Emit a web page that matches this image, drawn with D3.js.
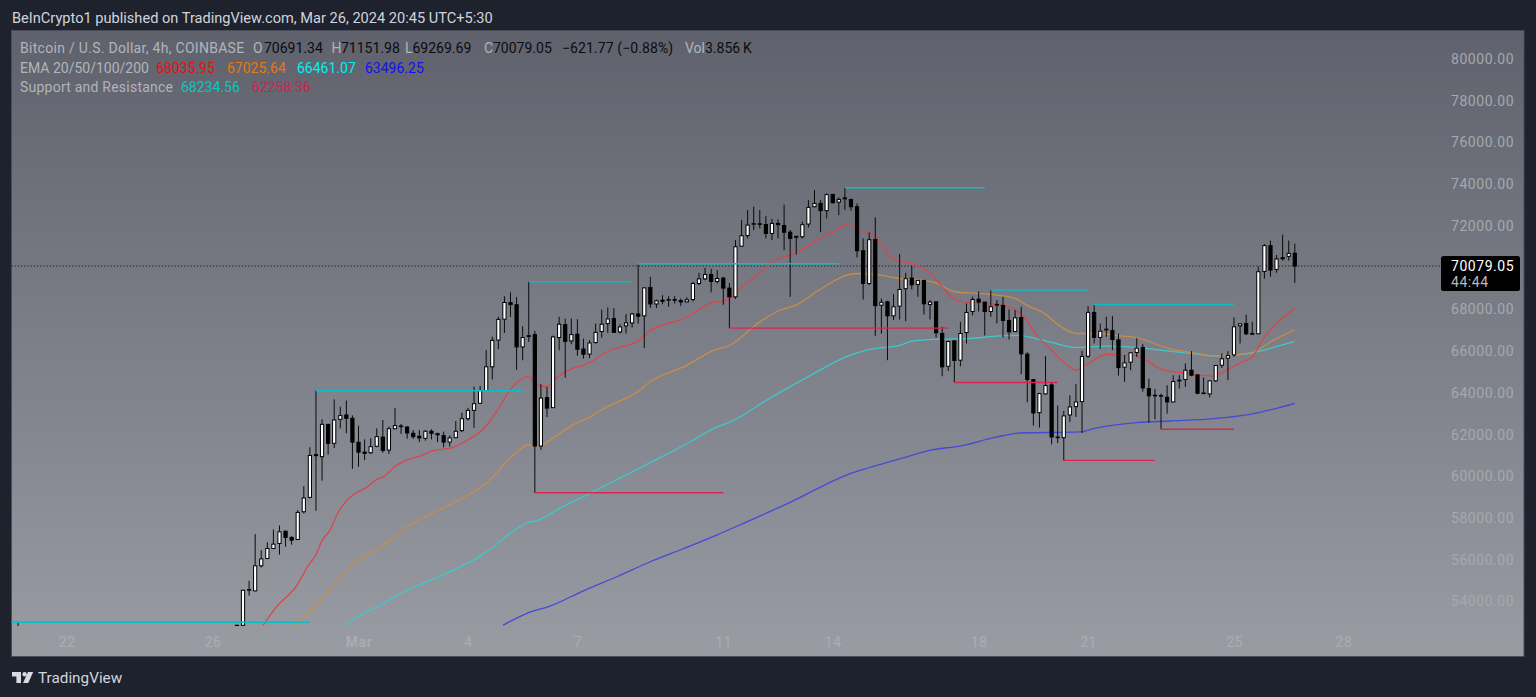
<!DOCTYPE html>
<html>
<head>
<meta charset="utf-8">
<title>Bitcoin / U.S. Dollar, 4h</title>
<script src="https://cdn.jsdelivr.net/npm/d3@7"></script>
<style>
	html, body { margin: 0; padding: 0; background: #1e222d; overflow: hidden; }
	svg { display: block; }
	text { font-family: Roboto, sans-serif; }
</style>
</head>
<body>
<div id="chart"></div>
<script>
// candles, bar 0 is the first big candle of Feb 26, arrays start at bar -1
var firstBar = -1;
var opens = [52860,
	52860,54540,54510,55710,56060,56540,56780,57370,57070,56970,
	58300,58990,61040,60940,62490,61580,62730,62940,62780,61630,
	61160,61130,61440,61880,61260,62280,62410,62360,62060,61920,
	61820,62160,62040,61950,61640,61850,62190,62760,63160,63500,
	64113,65249,66529,67530,68330,68220,66200,66740,66790,61450,
	63770,63290,66650,67270,66490,66810,66100,65860,66410,66940,
	67320,67560,66920,67210,67350,67780,67690,69050,68260,68440,
	68440,68470,68420,68360,68470,69240,69460,69670,69340,69500,
	69020,68600,71030,71540,72080,72100,72070,71640,72120,72020,
	71700,71500,71480,72090,72920,73080,72730,73510,73140,73340,
	73270,72920,70810,69240,71350,68200,68365,67690,68155,68990,
	69500,69195,69390,68235,68365,66845,65275,66490,65565,66890,
	67900,68490,68350,67900,68205,68190,67470,66940,67610,65855,
	64635,63050,63950,64380,61850,61850,62940,63340,63580,65755,
	67855,66655,67020,66990,66540,65230,65470,65935,66175,64205,
	63855,63840,63790,63565,64575,64635,65085,64860,63965,63950,
	64575,65325,65660,65820,67215,67325,66845,66830,69820,71055,
	69915,70475,70540,70691.34];
var highs = [52880,
	54560,54990,57230,56460,56840,57450,57640,57390,57130,58380,
	59530,61390,64110,62730,62510,63690,63340,63630,62920,62430,
	61770,61820,62300,62700,62380,63280,62510,62410,62220,62220,
	62220,62250,62090,62140,61960,62650,63050,63280,64300,64330,
	66050,66689,67649,68630,68820,68600,67190,69320,66970,64410,
	64280,66740,67640,67560,67560,67530,66600,66520,67320,67990,
	68090,68060,67290,67770,67830,70150,69050,69560,68470,68680,
	68630,68630,68520,68580,69320,69750,69990,69940,69880,69560,
	69270,71320,72280,72760,72920,72760,72470,72340,72310,73020,
	71800,71510,72200,73240,73720,73240,73560,73530,73370,73830,
	73300,73080,71400,71690,72410,68520,68415,68735,70655,69755,
	70075,69405,69405,68445,68365,67165,66495,66525,67405,68285,
	68605,68860,68350,68925,68445,68605,68000,67965,68125,65950,
	64635,64000,65755,64475,63390,63135,63885,64415,66015,68155,
	68205,67325,67645,67690,66845,65805,65950,66620,66335,64670,
	64190,63965,64365,64845,64845,65405,66000,64860,64735,64605,
	65340,65885,65995,67610,67325,67740,67405,70045,71135,71295,
	70605,71580,71295,71151.98];
var lows = [52700,
	52700,54280,54490,55630,56060,56510,56250,56620,56720,56970,
	58220,58940,58350,59790,61040,61360,62300,62060,60360,60460,
	60780,61070,61390,61130,61070,62280,62030,61800,61790,61640,
	61710,61770,61640,61390,61420,61840,62120,62670,62320,63470,
	64097,64641,66097,66870,67640,65110,65560,66440,59210,61270,
	62840,63290,66040,64730,66330,65780,65640,65660,66360,66650,
	66870,66900,66840,66840,67130,67320,66150,68070,68060,68250,
	68120,68280,68170,68340,68380,69160,69400,68820,69240,68220,
	67100,68500,71000,71400,71800,71880,71400,71320,71400,70840,
	68600,70630,71400,71930,72890,71700,72360,73080,72520,72760,
	72730,70490,68470,69160,66730,66840,65565,67485,67515,67435,
	68955,68605,67755,67515,66650,64795,65050,64490,65275,66365,
	67710,67900,66750,67645,67325,66650,66555,66910,64895,63550,
	62430,62335,63915,61535,61595,60765,62605,62845,62075,65675,
	66365,66110,66685,66045,64830,64525,65085,65725,64060,62575,
	62735,62255,63005,63550,64205,64285,64795,63935,63935,63775,
	64525,65195,64605,65725,66365,66765,66765,66815,69470,69565,
	69755,70335,70335,69269.69];
var closes = [52700,
	54540,54570,55710,56040,56540,56750,57340,57070,56940,58270,
	58960,61000,60990,62490,61580,62700,62910,62780,61640,61160,
	61100,61420,61900,61240,62280,62430,62380,62080,61900,61840,
	62160,62060,61990,61640,61840,62160,62760,63160,63480,64110,
	65249,66513,67521,68330,68230,66200,66650,66700,61450,63750,
	63270,66680,67290,66470,66790,66090,65850,66390,66900,67290,
	67540,66900,67160,67350,67780,67670,69030,68260,68410,68390,
	68470,68440,68360,68460,69240,69460,69670,69340,69480,69020,
	68600,71000,71530,72040,72110,72080,71640,72120,72060,71700,
	71400,71460,72060,72890,73080,72730,73500,73110,73270,73300,
	72920,70810,69240,71340,68180,68340,67690,68125,68955,69470,
	69180,69390,68270,68350,66880,65245,66460,65550,66845,67855,
	68475,68350,67900,68125,68240,67470,66925,67595,65870,64635,
	63035,63965,64350,61885,61880,62895,63325,63565,65745,67855,
	66655,66955,67050,66555,65210,65435,65920,66140,64235,63855,
	63885,63870,63565,64540,64605,65085,64845,63980,63995,64575,
	65310,65630,65790,67165,67310,66830,66815,69805,71055,69885,
	70415,70430,70685,70079.05];

// single wick poking in at the far left, the rest of that month is below the pane
var strayBars = [-37];
var strayHighs = [53030];

var ema20Bars = [3.3,5.5,8.9,10.6,12.1,12.9,14.3,15.7,16.9,18.1,20.3,22,23.1,25.3,26.9,29.1,31.3,34.6,36.5,39.8,41.7,43.9,46.9,48,49.9,51.6,54.1,56,60.4,65,66.7,72.9,76.8,79.8,81.7,84.5,87.8,90.8,94.4,97.1,99.7,101.5,102.9,105.3,107,110.3,113,115.2,117.1,119.6,123.4,126.7,128.4,130.5,132.7,134.9,137.1,138.8,142.1,144,146.4,148.6,151.4,154.7,157.4,159.6,161.8,164,165.9,167.8,170,173];
var ema20 = [52860,53740,54780,55660,56300,56860,57420,58300,58780,59100,59470,59850,59980,60540,60780,60970,61230,61390,61660,62350,63100,64130,64790,64440,64280,64730,65160,65320,66040,66490,66920,67610,68280,68470,69000,69640,70390,70680,71320,71720,72120,71750,71690,71000,70400,70160,69760,69000,68480,68320,68250,68040,67650,66770,66130,65490,65090,65360,65850,65800,65800,65560,65090,64960,64850,64800,65090,65440,65690,66600,67320,68036];
var ema50Bars = [8.2,9.9,12.7,16,18.7,23.1,26.9,30.8,34.6,37.9,40.1,43.9,46.9,48,49.4,51.6,54.1,56.5,59.8,65,66.9,73,77.4,80.1,85,88.3,91.1,94.9,99.6,101.5,104.8,108,111.9,114.1,117.1,120.7,124,127,128.9,132.2,133.8,137.1,140.4,144.2,147,151.9,156.3,159.6,164,165.9,169.5,173];
var ema50 = [52860,53260,54060,55180,55900,56700,57550,58190,58730,59260,59690,60860,61500,61450,61530,61960,62440,62760,63320,64070,64520,65320,66040,66280,67400,67960,68230,68950,69670,69720,69640,69480,69400,69245,68845,68765,68685,68525,68205,67725,67325,66845,66845,66730,66650,66160,65920,65770,65850,65920,66530,67025];
var ema100Bars = [16.8,19.2,23.1,25.3,28.6,34.6,37.9,40.1,43.9,46.9,48.3,52.1,57.1,65,73,77.9,80.1,86.1,88.9,92.7,99.8,102.9,108,110.3,114.6,119.6,123.9,127.3,132.2,137.1,142.1,147,151.9,156.9,159.6,162.9,165.9,169.5,173];
var ema100 = [52860,53340,53900,54300,54730,55500,55980,56380,57260,57790,57870,58460,59190,60360,61560,62360,62600,63640,64120,64730,65800,66070,66280,66490,66570,66605,66720,66750,66475,66175,66240,66175,66015,65855,65770,65805,65920,66175,66461];
var ema200Bars = [42.8,46.9,50.5,56,61.5,67,72.4,77.9,82.3,90,99.8,102.9,108.1,113.5,117.9,124,127.8,137.7,139.9,147,152.5,159.6,165.6,173];
var ema200 = [52865,53457,53777,54513,55185,55905,56529,57185,57745,58753,60120,60410,60845,61275,61450,61885,62075,62125,62285,62570,62650,62765,62970,63496];

// support and resistance segments
var resistFrom = [-40,12,47,65,99,123,140];
var resistTo = [11,46,64,98,122,139,163];
var resistLevels = [53007,64100,69320,70184,73830,68925,68235];
var supportFrom = [48,80,117,135,151];
var supportTo = [79,116,134,150,163];
var supportLevels = [59210,67100,64495,60765,62258];

var priceTicks = [54000,56000,58000,60000,62000,64000,66000,68000,70000,72000,74000,76000,78000,80000];
var dateBars = [-29,-5,19,37,55,79,97,121,139,163,181];
var dateLabels = ['22','26','Mar','4','7','11','14','18','21','25','28'];
var lastPrice = 70079.05;
var countdown = '44:44';

var width = 1536, height = 697;
var panel = { left: 11.5, top: 30.5, right: 1524, bottom: 656.5 };
var paneBottom = 626;

var x = d3.scaleLinear().domain([0, 173]).range([243, 1294.8]);
var y = d3.scaleLinear().domain([54000, 80000]).range([601.5, 59]);

var svg = d3.select('#chart').append('svg')
	.attr('width', width)
	.attr('height', height);

var defs = svg.append('defs');
var grad = defs.append('linearGradient')
	.attr('id', 'paneBg')
	.attr('x1', 0).attr('y1', 0).attr('x2', 0).attr('y2', 1);
grad.append('stop').attr('offset', '0%').attr('stop-color', '#5f616c');
grad.append('stop').attr('offset', '100%').attr('stop-color', '#9a9ca4');
defs.append('clipPath').attr('id', 'paneClip').append('rect')
	.attr('x', panel.left)
	.attr('y', panel.top)
	.attr('width', panel.right - panel.left)
	.attr('height', paneBottom - panel.top);

svg.append('rect')
	.attr('x', panel.left)
	.attr('y', panel.top)
	.attr('width', panel.right - panel.left)
	.attr('height', panel.bottom - panel.top)
	.attr('fill', 'url(#paneBg)')
	.attr('stroke', '#4a4d59')
	.attr('stroke-width', 1);

// header line
svg.append('text')
	.attr('x', 12)
	.attr('y', 22.5)
	.attr('font-size', 14.6)
	.attr('fill', '#d1d4dc')
	.text('BeInCrypto1 published on TradingView.com, Mar 26, 2024 20:45 UTC+5:30');

var plot = svg.append('g').attr('clip-path', 'url(#paneClip)');

// last price line
plot.append('line')
	.attr('x1', panel.left)
	.attr('x2', 1441)
	.attr('y1', y(lastPrice))
	.attr('y2', y(lastPrice))
	.attr('stroke', '#15161a')
	.attr('stroke-dasharray', '1.2,2')
	.attr('stroke-width', 1);

function drawLevels(from, to, levels, color) {
	plot.append('g').selectAll('line')
		.data(d3.zip(from, to, levels))
		.enter().append('line')
		.attr('x1', function (d) { return x(d[0]); })
		.attr('x2', function (d) { return x(d[1]); })
		.attr('y1', function (d) { return y(d[2]); })
		.attr('y2', function (d) { return y(d[2]); })
		.attr('stroke', color)
		.attr('stroke-width', 1.4);
}

function drawEma(bars, values, color) {
	var line = d3.line()
		.curve(d3.curveMonotoneX)
		.x(function (d) { return x(d[0]); })
		.y(function (d) { return y(d[1]); });
	plot.append('path')
		.attr('d', line(d3.zip(bars, values)))
		.attr('fill', 'none')
		.attr('stroke', color)
		.attr('stroke-width', 1.3)
		.attr('stroke-linejoin', 'round');
}

drawEma(ema200Bars, ema200, '#4648d6');
drawEma(ema100Bars, ema100, '#3fc8c9');
drawEma(ema50Bars, ema50, '#c98d47');
drawEma(ema20Bars, ema20, '#d6474e');

// candles
var candles = opens.map(function (o, i) {
	return { bar: i + firstBar, open: o, high: highs[i], low: lows[i], close: closes[i] };
});

plot.append('g').selectAll('line')
	.data(d3.zip(strayBars, strayHighs))
	.enter().append('line')
	.attr('x1', function (d) { return x(d[0]); })
	.attr('x2', function (d) { return x(d[0]); })
	.attr('y1', function (d) { return y(d[1]); })
	.attr('y2', paneBottom)
	.attr('stroke', '#0b0b0d')
	.attr('stroke-width', 1);

var candle = plot.append('g').selectAll('g')
	.data(candles)
	.enter().append('g');

candle.append('line')
	.attr('x1', function (d) { return x(d.bar); })
	.attr('x2', function (d) { return x(d.bar); })
	.attr('y1', function (d) { return y(d.high); })
	.attr('y2', function (d) { return y(d.low); })
	.attr('stroke', '#0b0b0d')
	.attr('stroke-width', 1);

candle.append('rect')
	.attr('x', function (d) { return x(d.bar) - 1.6; })
	.attr('width', 3.2)
	.attr('y', function (d) { return y(Math.max(d.open, d.close)); })
	.attr('height', function (d) { return Math.max(0.4, Math.abs(y(d.open) - y(d.close))); })
	.attr('fill', function (d) { return d.close >= d.open ? '#ffffff' : '#000000'; })
	.attr('stroke', '#000000')
	.attr('stroke-width', 1);

drawLevels(resistFrom, resistTo, resistLevels, '#0dbcc6');
drawLevels(supportFrom, supportTo, supportLevels, '#d8264f');

// axes
var yAxis = d3.axisRight(y)
	.tickValues(priceTicks)
	.tickSize(0)
	.tickPadding(0)
	.tickFormat(d3.format('.2f'));
var yG = svg.append('g')
	.attr('transform', 'translate(1451,0)')
	.call(yAxis);
yG.select('.domain').remove();
yG.selectAll('text')
	.attr('font-size', 14)
	.attr('letter-spacing', '0.55px')
	.attr('font-family', 'Roboto, sans-serif')
	.attr('fill', '#a6a8af');

var xAxis = d3.axisBottom(x)
	.tickValues(dateBars)
	.tickSize(0)
	.tickPadding(0)
	.tickFormat(function (d, i) { return dateLabels[i]; });
var xG = svg.append('g')
	.attr('transform', 'translate(0,637)')
	.call(xAxis);
xG.select('.domain').remove();
xG.selectAll('text')
	.attr('font-size', 14)
	.attr('letter-spacing', '0.5px')
	.attr('font-family', 'Roboto, sans-serif')
	.attr('fill', '#abadb4')
	.attr('font-weight', function (d, i) { return dateLabels[i] == 'Mar' ? 600 : 400; });

// last price tag
svg.append('rect')
	.attr('x', 1441)
	.attr('y', 256)
	.attr('width', 79)
	.attr('height', 35)
	.attr('rx', 2.5)
	.attr('fill', '#000000');
svg.append('text')
	.attr('x', 1451)
	.attr('y', 270.5)
	.attr('font-size', 14)
	.attr('letter-spacing', '0.55px')
	.attr('fill', '#ffffff')
	.text(d3.format('.2f')(lastPrice));
svg.append('text')
	.attr('x', 1451)
	.attr('y', 287)
	.attr('font-size', 14)
	.attr('letter-spacing', '0.55px')
	.attr('fill', '#b8b9bd')
	.text(countdown);

// legend rows, last item is the letter spacing
var grayText = '#b2b4bc';
var legendTexts = [
	[20, 53, 'Bitcoin / U.S. Dollar, 4h, COINBASE', grayText, 0.29],
	[253, 53, 'O', grayText, 0], [264, 53, '70691.34', '#0c0c0f', 0],
	[331.5, 53, 'H', grayText, 0], [341, 53, '71151.98', '#0c0c0f', 0],
	[405, 53, 'L', grayText, 0], [412.5, 53, '69269.69', '#0c0c0f', 0],
	[484, 53, 'C', grayText, 0], [493, 53, '70079.05', '#0c0c0f', 0],
	[562, 53, '\u2212621.77 (\u22120.88%)', '#0c0c0f', 0.1],
	[685, 53, 'Vol', grayText, 0], [705, 53, '3.856\u2009K', '#0c0c0f', 0],
	[20, 73, 'EMA 20/50/100/200', grayText, 0],
	[156, 73, '68035.95', '#e01212', 0], [227, 73, '67025.64', '#e8770f', 0],
	[297, 73, '66461.07', '#00f0f0', 0], [365, 73, '63496.25', '#1111ee', 0],
	[20, 92, 'Support and Resistance', grayText, 0.23],
	[181, 92, '68234.56', '#06c6c6', 0], [252, 92, '62258.36', '#d4214c', 0]
];
svg.append('g').selectAll('text')
	.data(legendTexts)
	.enter().append('text')
	.attr('x', function (d) { return d[0]; })
	.attr('y', function (d) { return d[1]; })
	.attr('font-size', 14)
	.attr('letter-spacing', function (d) { return d[4] + 'px'; })
	.attr('fill', function (d) { return d[3]; })
	.text(function (d) { return d[2]; });

// footer logo
var logo = svg.append('g').attr('fill', '#d8dae0');
logo.append('path').attr('d', 'M12 672h9v11h-4.6v-6.6H12z');
logo.append('circle').attr('cx', 24.6).attr('cy', 674.2).attr('r', 2.2);
logo.append('path').attr('d', 'M28 672h5.2l-5 11h-5.2z');
svg.append('text')
	.attr('x', 38)
	.attr('y', 683)
	.attr('font-size', 15.3)
	.attr('fill', '#d1d4dc')
	.text('TradingView');
</script>
</body>
</html>
